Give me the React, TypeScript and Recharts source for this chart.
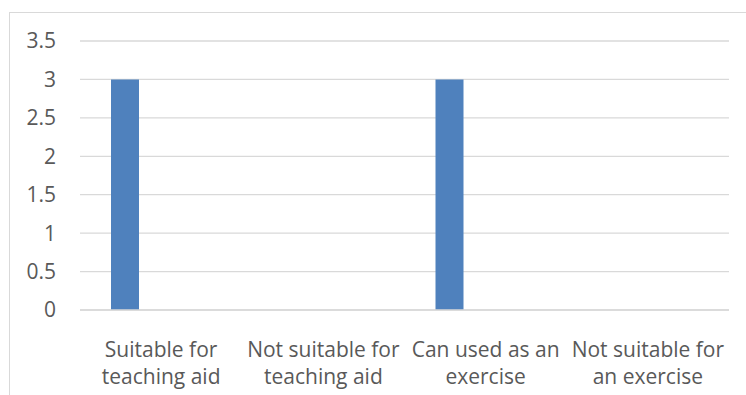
import { BarChart, Bar, XAxis, YAxis, CartesianGrid } from 'recharts';

// Category labels, split onto two lines with "\n"
const categories = [
  'Suitable for\nteaching aid',
  'Not suitable for\nteaching aid',
  'Can used as an\nexercise',
  'Not suitable for\nan exercise',
];

// Three series; only the first one carries values
const series1 = [3, 0, 3, 0];
const series2 = [0, 0, 0, 0];
const series3 = [0, 0, 0, 0];

const yTicks = [0, 0.5, 1, 1.5, 2, 2.5, 3, 3.5];

const data = categories.map((name, i) => ({
  name,
  s1: series1[i],
  s2: series2[i],
  s3: series3[i],
}));

const FONT = '"Open Sans", sans-serif';
const TEXT = '#595959';
const GRID = '#d9d9d9';
const BLUE = '#4f81bd';

function CategoryTick({ x, y, payload }: any) {
  const lines = String(payload.value).split('\n');
  return (
    <text x={x} y={y} textAnchor="middle" fill={TEXT} fontFamily={FONT} fontSize={21}>
      {lines.map((line, i) => (
        <tspan key={i} x={x} dy={i === 0 ? 39 : 27}>
          {line}
        </tspan>
      ))}
    </text>
  );
}

export default function App() {
  return (
    <div style={{ position: 'absolute', left: 0, top: 0, width: 746, height: 395, overflow: 'hidden', background: '#fff' }}>
      <div
        style={{
          position: 'absolute',
          left: 9,
          top: 12,
          width: 760,
          height: 420,
          border: `1px solid ${GRID}`,
          boxSizing: 'border-box',
        }}
      />
      <div style={{ position: 'absolute', left: 0, top: 0 }}>
        <BarChart
          width={746}
          height={395}
          data={data}
          margin={{ top: 41, right: 17, left: 0, bottom: 0 }}
          barSize={28}
          barGap={8}
        >
          <CartesianGrid horizontal vertical={false} stroke={GRID} strokeWidth={1.3} />
          <XAxis
            dataKey="name"
            height={85}
            axisLine={{ stroke: GRID, strokeWidth: 1.3 }}
            tickLine={false}
            interval={0}
            tick={<CategoryTick />}
          />
          <YAxis
            width={80}
            domain={[0, 3.5]}
            ticks={yTicks}
            axisLine={false}
            tickLine={false}
            tickSize={0}
            tickMargin={24}
            tick={{ fill: TEXT, fontFamily: FONT, fontSize: 21 }}
          />
          <Bar dataKey="s1" fill={BLUE} isAnimationActive={false} />
          <Bar dataKey="s2" fill="#c0504d" isAnimationActive={false} />
          <Bar dataKey="s3" fill="#9bbb59" isAnimationActive={false} />
        </BarChart>
      </div>
    </div>
  );
}
